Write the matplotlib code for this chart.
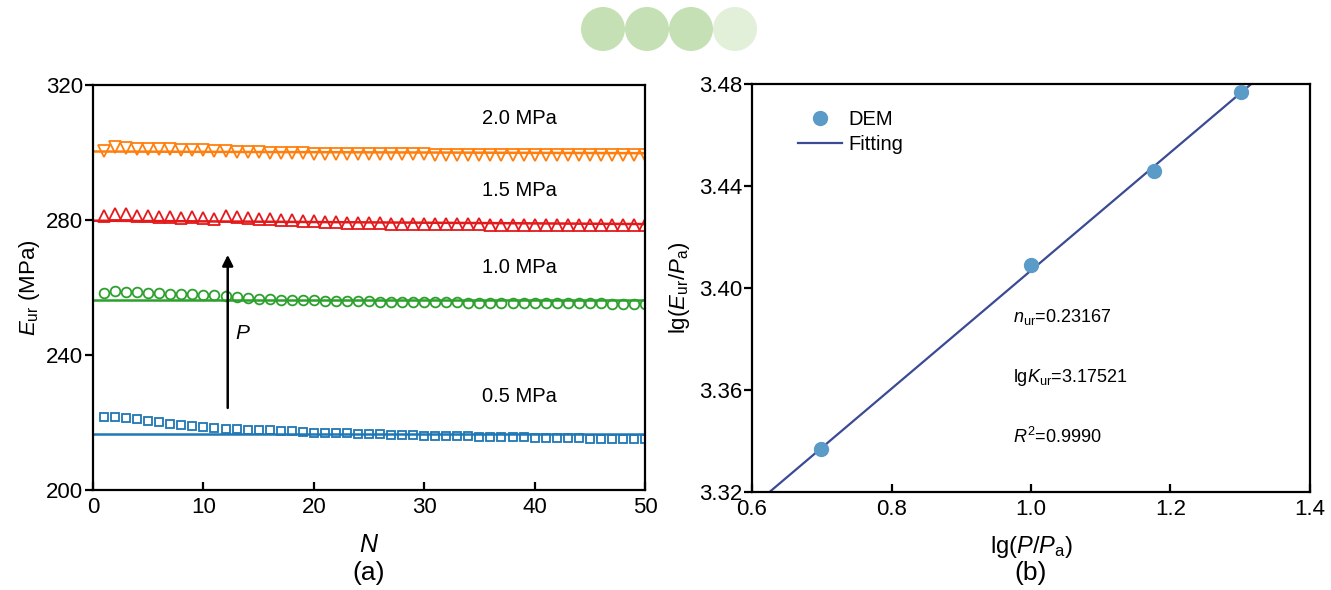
import numpy as np
import matplotlib.pyplot as plt
from matplotlib.patches import Ellipse

plt.rcParams['font.family'] = ['Liberation Sans', 'DejaVu Sans']
plt.rcParams['mathtext.fontset'] = 'custom'
plt.rcParams['mathtext.rm'] = 'Liberation Sans'
plt.rcParams['mathtext.it'] = 'Liberation Sans:italic'

# (a) E_ur vs N
N = np.arange(1, 51)
e_05 = [221.7, 221.6, 221.3, 220.9, 220.4, 220.0, 219.6, 219.3, 219.0, 218.7,
        218.4, 218.2, 218.0, 217.9, 217.8, 217.8, 217.5, 217.4, 217.1, 217.0,
        216.9, 216.8, 216.8, 216.7, 216.6, 216.5, 216.4, 216.3, 216.2, 216.1,
        216.0, 216.0, 215.9, 215.9, 215.8, 215.8, 215.7, 215.6, 215.6, 215.5,
        215.4, 215.4, 215.3, 215.3, 215.2, 215.2, 215.1, 215.1, 215.0, 215.0]
e_10 = [258.4, 259.1, 258.7, 258.6, 258.5, 258.3, 258.1, 258.0, 258.0, 257.9,
        257.7, 257.5, 257.2, 256.9, 256.7, 256.5, 256.4, 256.3, 256.3, 256.2,
        256.1, 256.0, 256.0, 255.9, 255.9, 255.8, 255.8, 255.7, 255.7, 255.7,
        255.6, 255.6, 255.6, 255.5, 255.5, 255.5, 255.5, 255.4, 255.4, 255.4,
        255.4, 255.3, 255.3, 255.3, 255.3, 255.3, 255.2, 255.2, 255.2, 255.2]
e_15 = [281.2, 281.8, 281.9, 281.3, 281.1, 281.0, 280.9, 280.7, 280.8, 280.6,
        280.3, 281.2, 280.8, 280.6, 280.4, 280.2, 280.0, 279.9, 279.8, 279.6,
        279.4, 279.3, 279.2, 279.1, 279.0, 279.0, 278.9, 278.9, 278.8, 278.8,
        278.8, 278.7, 278.7, 278.7, 278.7, 278.6, 278.6, 278.6, 278.6, 278.5,
        278.5, 278.5, 278.5, 278.5, 278.4, 278.4, 278.4, 278.4, 278.4, 278.4]
e_20 = [300.4, 301.6, 301.3, 301.1, 301.0, 300.9, 300.9, 300.8, 300.7, 300.6,
        300.5, 300.4, 300.3, 300.3, 300.2, 300.0, 299.9, 299.8, 299.8, 299.7,
        299.7, 299.6, 299.6, 299.6, 299.6, 299.5, 299.5, 299.5, 299.5, 299.5,
        299.4, 299.4, 299.4, 299.4, 299.4, 299.4, 299.4, 299.3, 299.3, 299.3,
        299.3, 299.3, 299.3, 299.3, 299.3, 299.3, 299.3, 299.3, 299.3, 299.3]
line_N = [0, 50]
fit_05 = [216.7, 216.7]
fit_10 = [256.3, 256.3]
fit_15 = [279.8, 278.8]
fit_20 = [300.3, 299.8]

# (b) lg fit
lgP = [0.699, 1.0, 1.176, 1.301]
lgE = [3.337, 3.409, 3.446, 3.477]
n_ur = 0.23167
lgK_ur = 3.17521

fig = plt.figure(figsize=(13.31, 5.9), dpi=100)
ax1 = fig.add_axes([0.0699, 0.1695, 0.4147, 0.6864])
ax2 = fig.add_axes([0.565, 0.166, 0.4192, 0.6915])

blue, green, red, orange = '#1f77b4', '#2ca02c', '#e31a1c', '#ff7f0e'
ax1.plot(line_N, fit_05, color=blue, lw=1.8)
ax1.plot(line_N, fit_10, color=green, lw=1.8)
ax1.plot(line_N, fit_15, color=red, lw=1.8)
ax1.plot(line_N, fit_20, color=orange, lw=1.8)
ax1.plot(N, e_05, 's', ms=6, mfc='none', mec=blue, mew=1.3)
ax1.plot(N, e_10, 'o', ms=7, mfc='none', mec=green, mew=1.3)
ax1.plot(N, e_15, '^', ms=8, mfc='none', mec=red, mew=1.3)
ax1.plot(N, e_20, 'v', ms=8, mfc='none', mec=orange, mew=1.3)

ax1.annotate('', xy=(12.2, 270.5), xytext=(12.2, 223.5),
             arrowprops=dict(arrowstyle='-|>', color='black', lw=1.8, mutation_scale=16))
ax1.text(12.9, 246.5, '$P$', fontsize=15, va='center')
for txt, yv in [('2.0 MPa', 310.2), ('1.5 MPa', 288.6), ('1.0 MPa', 265.8), ('0.5 MPa', 227.6)]:
    ax1.text(38.6, yv, txt, fontsize=14.5, ha='center', va='center')

ax1.set_xlim(0, 50)
ax1.set_ylim(200, 320)
ax1.set_xticks([0, 10, 20, 30, 40, 50])
ax1.set_yticks([200, 240, 280, 320])
ax1.set_xlabel('$N$', fontsize=18, labelpad=11)
ax1.set_ylabel('$E_{\\mathrm{ur}}$ (MPa)', fontsize=16, labelpad=3)
fig.text(369 / 1331, 1 - 573 / 590, '(a)', ha='center', va='center', fontsize=19)

ax2.plot(lgP, lgE, 'o', ms=10, color='#5b9bc8', label='DEM', zorder=3)
xf = np.array([0.6, 1.4])
ax2.plot(xf, lgK_ur + n_ur * xf, color='#3b4a94', lw=1.6, label='Fitting')
ax2.text(0.974, 3.3886, '$n_{\\mathrm{ur}}$=0.23167', fontsize=13, va='center')
ax2.text(0.974, 3.3650, 'lg$K_{\\mathrm{ur}}$=3.17521', fontsize=13, va='center')
ax2.text(0.974, 3.3416, '$R^2$=0.9990', fontsize=13, va='center')
ax2.set_xlim(0.6, 1.4)
ax2.set_ylim(3.32, 3.48)
ax2.set_xticks([0.6, 0.8, 1.0, 1.2, 1.4])
ax2.set_yticks([3.32, 3.36, 3.40, 3.44, 3.48])
ax2.set_xlabel('lg($P$/$P_{\\mathrm{a}}$)', fontsize=17, labelpad=10)
ax2.set_ylabel('lg($E_{\\mathrm{ur}}$/$P_{\\mathrm{a}}$)', fontsize=16, labelpad=5)
fig.text(1031 / 1331, 1 - 573 / 590, '(b)', ha='center', va='center', fontsize=19)
ax2.legend(loc='upper left', frameon=False, fontsize=14.5, bbox_to_anchor=(0.05, 0.98),
           handlelength=2.2, handletextpad=0.3, labelspacing=0.3)

for ax in (ax1, ax2):
    for s in ax.spines.values():
        s.set_linewidth(1.6)
    ax.tick_params(axis='x', direction='in', length=6, width=1.6, labelsize=16, pad=5)
    ax.tick_params(axis='y', direction='out', length=6, width=1.6, labelsize=16, pad=1)

# decorative circles at top
for cx, c in [(603, '#c5e0b4'), (647, '#c5e0b4'), (691, '#c5e0b4'), (735, '#e2efd9')]:
    fig.add_artist(Ellipse((cx / 1331, 1 - 29 / 590), 44 / 1331, 44 / 590,
                           transform=fig.transFigure, color=c, lw=0))

fig.savefig('out.png', dpi=100)
